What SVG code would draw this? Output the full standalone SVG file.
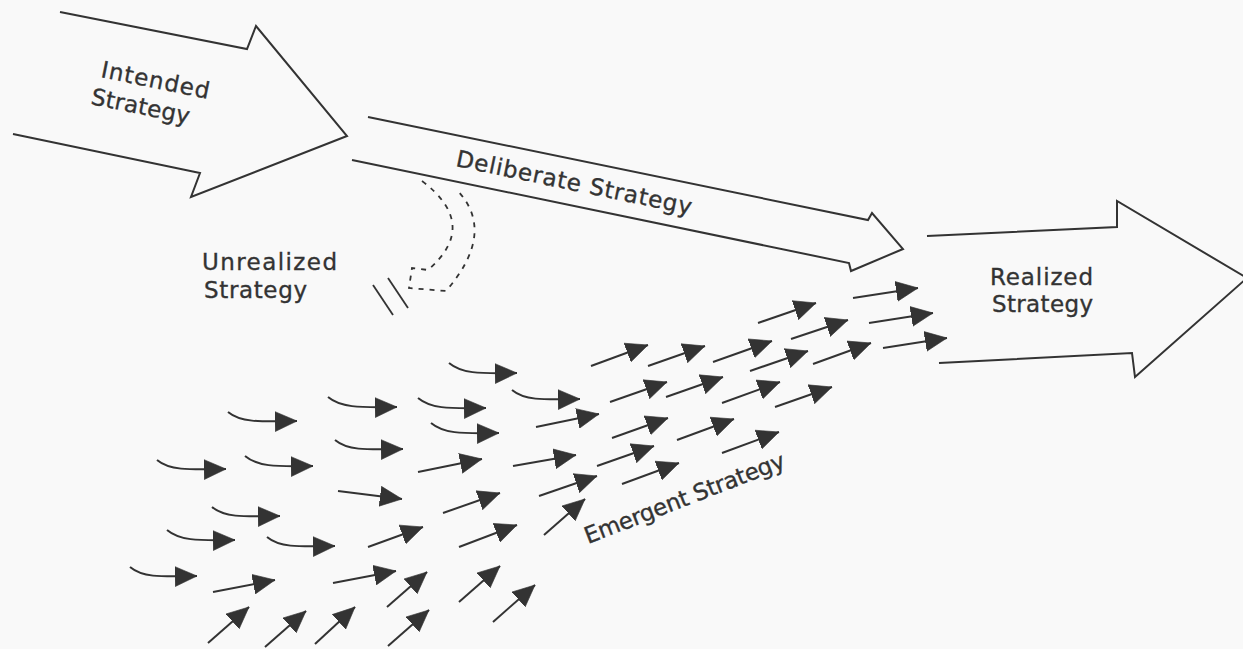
<svg xmlns="http://www.w3.org/2000/svg" width="1243" height="649" viewBox="0 0 1243 649">
<style>
.big{fill:none;stroke:#333;stroke-width:2;stroke-linejoin:miter}
.lbl{font-family:"DejaVu Sans","Open Sans",sans-serif;font-size:23px;fill:#333;stroke:#333;stroke-width:0.35}
.sm{fill:none;stroke:#333;stroke-width:2;marker-end:url(#ah)}
.dash{fill:none;stroke:#333;stroke-width:1.8;stroke-dasharray:5 6}
</style>
<defs>
<marker id="ah" markerUnits="userSpaceOnUse" viewBox="0 0 23 21" markerWidth="23" markerHeight="21" refX="22" refY="10.5" orient="auto">
<path d="M0,0.5 L22,10.5 L0,20.5 z" fill="#333" stroke="#333" stroke-width="0.6" stroke-linejoin="round"/>
</marker>
</defs>
<rect width="1243" height="649" fill="#f9f9f9"/>
<g id="intended">
<polyline class="big" points="60,12 247,49 256,26 347,136 191,197 200,173 13,134"/>
<text class="lbl" transform="translate(100,77) rotate(11.5)" textLength="110" lengthAdjust="spacing">Intended</text>
<text class="lbl" transform="translate(90,104) rotate(11.5)" textLength="100" lengthAdjust="spacing">Strategy</text>
</g>
<g id="realized">
<polyline class="big" points="927,236 1117,227 1117,201 1247,278 1135,377 1132,353 939,363"/>
<text class="lbl" x="990" y="285" textLength="103" lengthAdjust="spacing">Realized</text>
<text class="lbl" x="992" y="312" textLength="101" lengthAdjust="spacing">Strategy</text>
</g>
<g id="unrealized-label">
<text class="lbl" x="202" y="270" textLength="135" lengthAdjust="spacing">Unrealized</text>
<text class="lbl" x="204" y="298" textLength="103" lengthAdjust="spacing">Strategy</text>
</g>
<g id="emergent-label">
<text class="lbl" transform="translate(588,544) rotate(-21.2)" textLength="213" lengthAdjust="spacing">Emergent Strategy</text>
</g>
<g id="connectors">
<g id="deliberate">
<polyline class="big" points="368,117 868,220 872,213 903,249 851,271 849,263 352,160"/>
<text class="lbl" transform="translate(455,166) rotate(11.7)" textLength="240" lengthAdjust="spacing">Deliberate Strategy</text>
</g>
<g id="unrealized">
<path class="dash" d="M422,181 Q480,225 428,270 L412,268 L409,288 L446,291 Q497,232 457,190"/>
<line x1="373" y1="285" x2="393" y2="315" stroke="#333" stroke-width="1.8"/>
<line x1="388" y1="278" x2="408" y2="308" stroke="#333" stroke-width="1.8"/>
</g>
<g id="emergent">
<path class="sm" d="M228,412 C240,422 257,422 297,421"/>
<path class="sm" d="M328,397 C340,407 357,408 397,407"/>
<path class="sm" d="M157,460 C169,470 186,470 226,469"/>
<path class="sm" d="M245,456 C257,466 273,467 313,466"/>
<path class="sm" d="M335,440 C347,450 363,450 403,449"/>
<path class="sm" d="M212,507 C224,517 240,517 280,516"/>
<path class="sm" d="M167,530 C179,540 195,541 235,540"/>
<path class="sm" d="M267,537 C279,547 295,547 335,546"/>
<path class="sm" d="M130,567 C142,577 157,577 197,576"/>
<path class="sm" d="M449,363 C461,373 477,374 517,373"/>
<path class="sm" d="M418,398 C430,408 446,409 486,408"/>
<path class="sm" d="M512,390 C524,400 540,400 580,399"/>
<path class="sm" d="M431,423 C443,433 459,434 499,433"/>
<path class="sm" d="M338,491 L402,499"/>
<path class="sm" d="M368,547 L423,527"/>
<path class="sm" d="M213,592 L275,580"/>
<path class="sm" d="M333,583 L396,571"/>
<path class="sm" d="M208,643 L249,607"/>
<path class="sm" d="M265,647 L306,611"/>
<path class="sm" d="M315,644 L355,607"/>
<path class="sm" d="M387,607 L427,572"/>
<path class="sm" d="M591,366 L648,345"/>
<path class="sm" d="M648,366 L705,346"/>
<path class="sm" d="M610,402 L667,382"/>
<path class="sm" d="M536,427 L599,414"/>
<path class="sm" d="M612,438 L668,418"/>
<path class="sm" d="M418,472 L482,459"/>
<path class="sm" d="M513,466 L576,455"/>
<path class="sm" d="M597,466 L654,446"/>
<path class="sm" d="M622,484 L679,463"/>
<path class="sm" d="M443,513 L500,493"/>
<path class="sm" d="M539,496 L597,476"/>
<path class="sm" d="M544,535 L585,499"/>
<path class="sm" d="M459,547 L517,525"/>
<path class="sm" d="M459,602 L500,566"/>
<path class="sm" d="M388,646 L429,610"/>
<path class="sm" d="M493,622 L535,585"/>
<path class="sm" d="M713,362 L772,341"/>
<path class="sm" d="M758,323 L816,303"/>
<path class="sm" d="M853,298 L918,288"/>
<path class="sm" d="M791,339 L848,320"/>
<path class="sm" d="M869,323 L933,313"/>
<path class="sm" d="M750,371 L808,351"/>
<path class="sm" d="M813,364 L871,343"/>
<path class="sm" d="M883,348 L947,338"/>
<path class="sm" d="M666,397 L723,377"/>
<path class="sm" d="M722,403 L780,382"/>
<path class="sm" d="M775,407 L832,387"/>
<path class="sm" d="M677,440 L734,419"/>
<path class="sm" d="M722,453 L779,432"/>
</g>
</g>
</svg>
